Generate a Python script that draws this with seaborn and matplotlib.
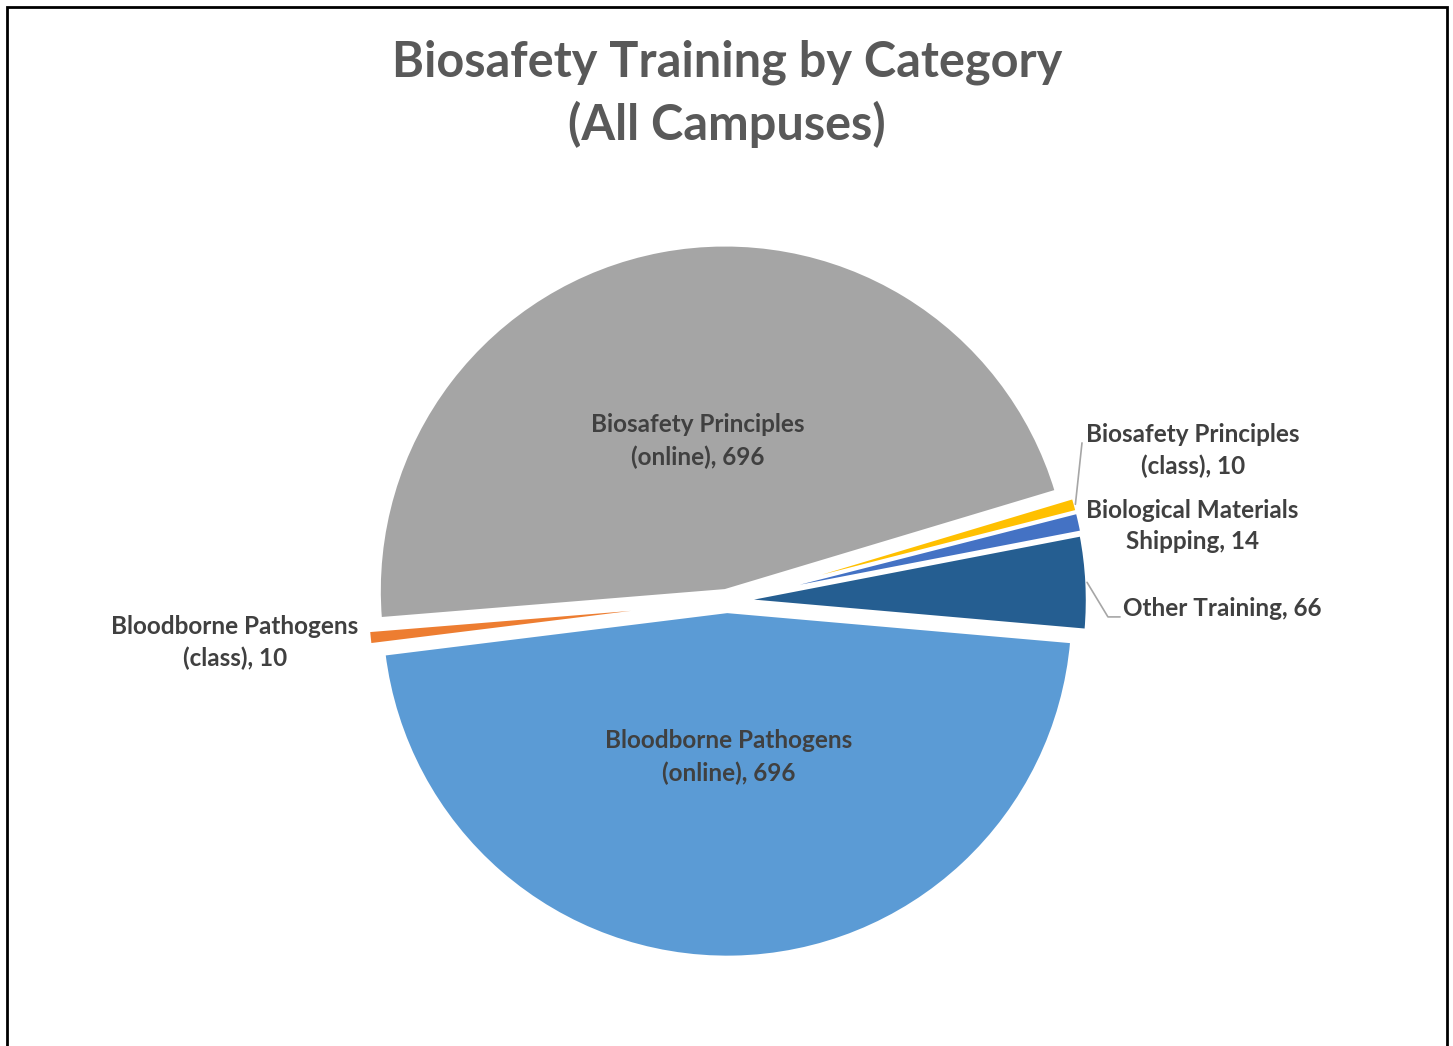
import numpy as np
import matplotlib
matplotlib.use("Agg")
import matplotlib.pyplot as plt
import seaborn as sns
from matplotlib.patches import Rectangle

# Data (clockwise order, starting just below 3 o'clock)
categories = ["Bloodborne Pathogens\n(online)", "Bloodborne Pathogens\n(class)",
              "Biosafety Principles\n(online)", "Biosafety Principles\n(class)",
              "Biological Materials\nShipping", "Other Training"]
counts = [696, 10, 696, 10, 14, 66]

# Style / layout
colors = sns.color_palette(["#5B9BD5", "#ED7D31", "#A5A5A5", "#FFC000", "#4472C4", "#255E91"])
explode = [0.03, 0.04, 0.03, 0.045, 0.045, 0.042]
label_pos = [(0.006, -0.451), (-1.422, -0.121), (-0.084, 0.462),
             (1.347, 0.434), (1.344, 0.217), (1.145, -0.023)]
label_ha = ["center", "center", "center", "center", "center", "left"]

sns.set_theme(style="white")
plt.rcParams["font.family"] = ["Lato", "DejaVu Sans"]

W, H = 1453, 1046
fig = plt.figure(figsize=(W / 100, H / 100), dpi=100)

# pie centre at (727, 601) px from top-left, radius 346 px
r_px = 346
cx, cy = 727, H - 601
half = 1.25 * r_px
ax = fig.add_axes([(cx - half) / W, (cy - half) / H, 2 * half / W, 2 * half / H])

wedges, _ = ax.pie(counts, colors=colors, explode=explode, startangle=-5,
                   counterclock=False, radius=1,
                   wedgeprops=dict(edgecolor="white", linewidth=2.5, joinstyle="round"))
ax.set_xlim(-1.25, 1.25)
ax.set_ylim(-1.25, 1.25)
ax.set_aspect("equal")
ax.axis("off")

for i, (cat, val) in enumerate(zip(categories, counts)):
    x, y = label_pos[i]
    ax.text(x, y, f"{cat}, {val}", ha=label_ha[i], va="center", fontsize=17.5,
            fontweight="bold", color="#404040", linespacing=1.45)

# leader lines from the wedge edge to the outside labels
def edge_point(i):
    w = wedges[i]
    mid = np.deg2rad((w.theta1 + w.theta2) / 2)
    d = 1 + explode[i]
    return d * np.cos(mid), d * np.sin(mid)

x0, y0 = edge_point(3)
ax.plot([x0, 1.026], [y0, 0.457], color="#A6A6A6", lw=1.2)
x0, y0 = edge_point(5)
ax.plot([x0, 1.101, 1.136], [y0, -0.046, -0.046], color="#A6A6A6", lw=1.2)

fig.text(cx / W, 1 - 94 / H, "Biosafety Training by Category\n(All Campuses)",
         ha="center", va="center", fontsize=35, fontweight="bold", color="#595959",
         linespacing=1.4)

# chart border
fig.patches.append(Rectangle((7 / W, -0.05), (1447 - 7) / W, 1.05 - 7 / H,
                             transform=fig.transFigure, fill=False,
                             edgecolor="black", linewidth=2))

fig.savefig("out.png", dpi=100)
